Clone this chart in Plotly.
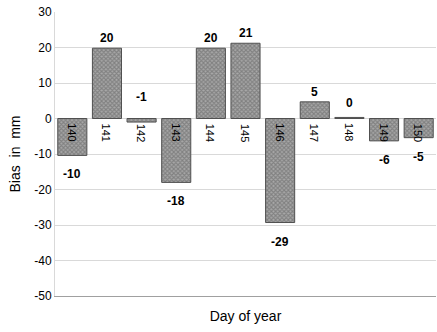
import plotly.graph_objects as go

days = [140, 141, 142, 143, 144, 145, 146, 147, 148, 149, 150]
bias = [-10.4, 19.8, -1.0, -18.0, 19.8, 21.2, -29.3, 4.7, 0.3, -6.3, -5.4]
bias_labels = ["-10", "20", "-1", "-18", "20", "21", "-29", "5", "0", "-6", "-5"]
y_ticks = [30, 20, 10, 0, -10, -20, -30, -40, -50]

FONT = "Liberation Sans, Arial, sans-serif"

fig = go.Figure()
fig.add_trace(go.Bar(
    x=days, y=bias,
    marker=dict(
        color="#8c8c8c",
        line=dict(color="#505050", width=1),
        pattern=dict(shape="x", size=3, solidity=0.6, fgcolor="#5a5a5a", bgcolor="#a8a8a8"),
    ),
    hoverinfo="skip",
))

annotations = []
for d, v, lab in zip(days, bias, bias_labels):
    if v >= -1.5:
        shift = 1 if v > 1 else (5 if v >= 0 else 13)
        annotations.append(dict(x=d, y=max(v, 0), text="<b>" + lab + "</b>", showarrow=False,
                                yanchor="bottom", yshift=shift,
                                font=dict(family=FONT, size=12, color="#000")))
    else:
        annotations.append(dict(x=d, y=v, text="<b>" + lab + "</b>", showarrow=False,
                                yanchor="top", yshift=-10,
                                font=dict(family=FONT, size=12, color="#000")))
    annotations.append(dict(x=d, y=0, text=str(d), showarrow=False, textangle=90,
                            yanchor="top", yshift=-3,
                            font=dict(family=FONT, size=11, color="#000")))

fig.update_layout(
    width=437, height=332,
    margin=dict(l=55, r=1, t=12, b=36),
    paper_bgcolor="white", plot_bgcolor="white",
    showlegend=False,
    bargap=0.16,
    font=dict(family=FONT, size=12, color="#000"),
    annotations=annotations,
    xaxis=dict(range=[139.5, 150.5], showticklabels=False, ticks="", showgrid=False,
               zeroline=False, showline=True, linecolor="#a0a0a0", linewidth=1,
               title=dict(text="Day of year", font=dict(family=FONT, size=14), standoff=15)),
    yaxis=dict(range=[-50, 30], tickvals=y_ticks, ticktext=[str(t) for t in y_ticks],
               showgrid=True, gridcolor="#d9d9d9", gridwidth=1, zeroline=False,
               showline=True, linecolor="#d9d9d9", ticks="", ticklen=0,
               tickfont=dict(family=FONT, size=12),
               title=dict(text="Bias  in  mm", font=dict(family=FONT, size=14), standoff=10)),
)

fig.write_html("out.html", config={"displayModeBar": False},
               post_script="document.body.style.margin='0';")
